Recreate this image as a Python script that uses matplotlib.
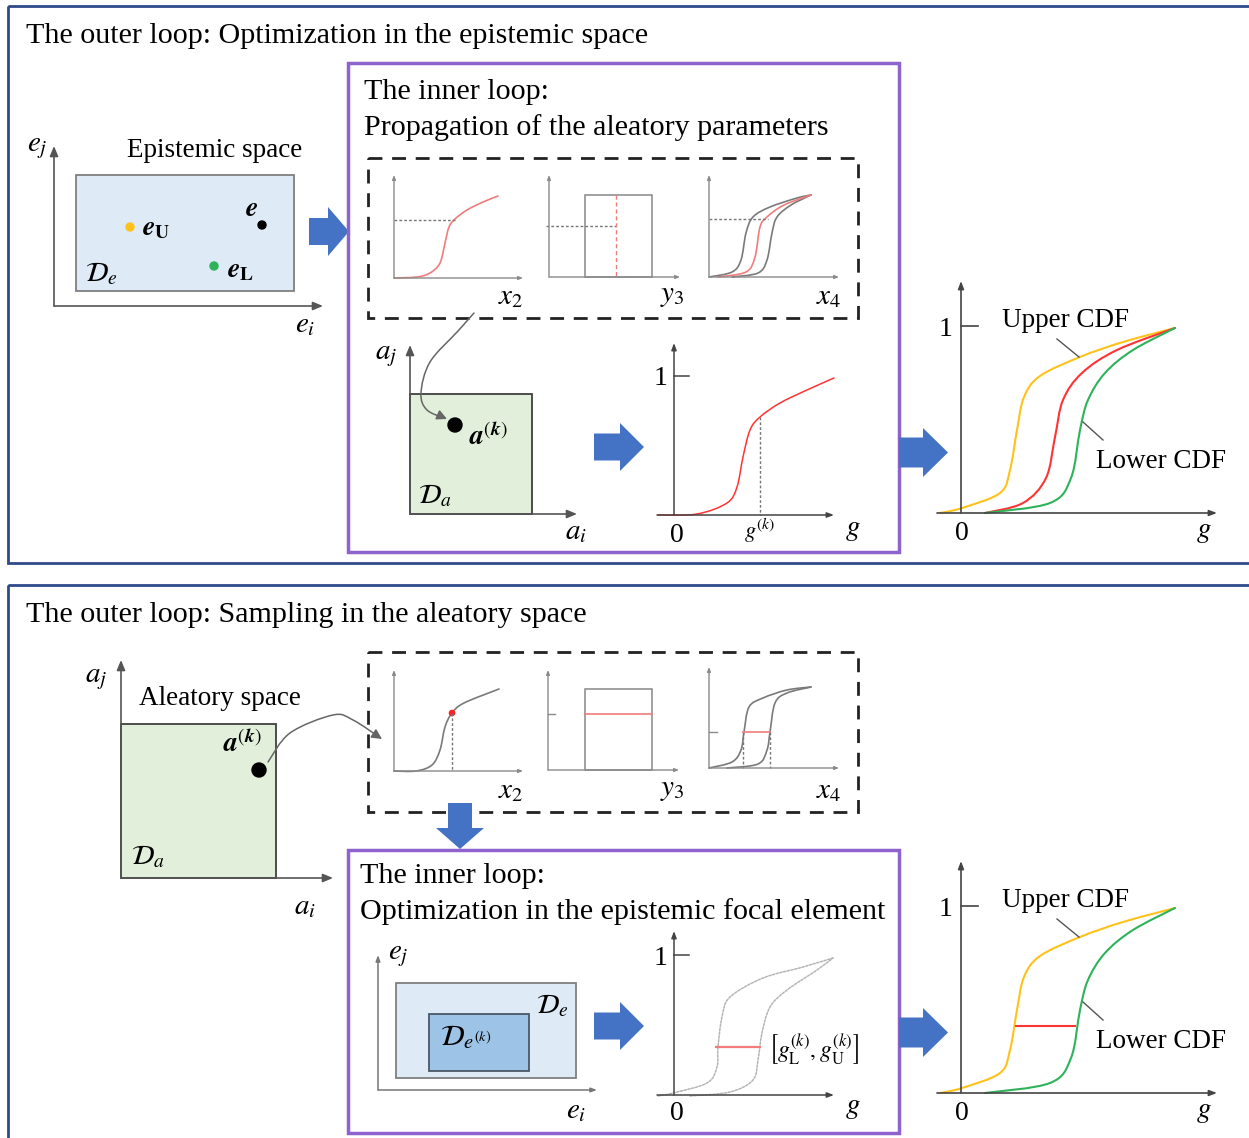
import matplotlib
matplotlib.use("Agg")
import matplotlib.pyplot as plt
from matplotlib.path import Path
from matplotlib.patches import Rectangle, Circle, FancyArrow, FancyArrowPatch, PathPatch
import numpy as np

plt.rcParams["font.family"] = ["Liberation Serif", "DejaVu Serif"]
plt.rcParams["mathtext.fontset"] = "stix"

W, H = 1249, 1138

# ---------------------------------------------------------------------------
# Curve key points (pixel coordinates)
# ---------------------------------------------------------------------------
# small propagation plots, top panel
x2_top = [(394, 278), (417, 277), (430, 273), (440, 263), (445, 243), (449, 227),
          (455, 219), (467, 210), (483, 202), (498, 196)]
x4_top_left = [(709, 277), (732, 272), (741, 260), (746, 233), (753, 217), (770, 207),
               (797, 198), (811, 195)]
x4_top_mid = [(718, 277), (746, 272), (755, 257), (760, 227), (767, 217), (784, 205),
              (811, 195)]
x4_top_right = [(732, 277), (758, 273), (767, 260), (772, 233), (777, 217), (791, 205),
                (811, 195)]

# small propagation plots, bottom panel
x2_bot = [(394, 771), (416, 771), (432, 765), (440, 750), (445, 727), (452, 713),
          (464, 703), (499, 689)]
x4_bot_left = [(709, 768), (732, 762), (741, 750), (744, 732), (749, 707), (763, 698),
               (787, 690), (811, 687)]
x4_bot_right = [(727, 768), (758, 764), (767, 750), (770, 732), (775, 703), (787, 693),
                (811, 687)]

# single CDF of g (top inner loop)
g_cdf = [(658, 515), (697, 514), (727, 503), (737, 487), (743, 457), (750, 430),
         (760, 417), (780, 403), (807, 390), (834, 378)]

# bounds in the focal element (bottom inner loop)
g_upper_k = [(658, 1096), (673, 1093), (707, 1083), (717, 1067), (718, 1047), (722, 1017),
             (730, 997), (763, 978), (803, 967), (833, 958)]
g_lower_k = [(690, 1096), (730, 1092), (753, 1080), (758, 1060), (762, 1033), (770, 1007),
             (787, 990), (817, 970), (833, 958)]

# p-box, top panel (bottom panel is the same shape, shifted down)
upper_cdf = [(940, 513), (962, 508), (1000, 493), (1010, 470), (1017, 430), (1024, 397),
             (1040, 376), (1080, 357), (1123, 342), (1175, 328)]
mid_cdf = [(985, 513), (1023, 503), (1046, 478), (1055, 437), (1063, 400), (1082, 373),
           (1117, 350), (1175, 328)]
lower_cdf = [(985, 513), (1050, 503), (1071, 478), (1080, 430), (1088, 400), (1105, 373),
             (1133, 350), (1175, 328)]
PANEL_SHIFT = 580

arrow_top = [(474, 313), (458, 331), (430, 362), (421, 393), (427, 410), (447, 419)]
arrow_bot = [(268, 762), (290, 733), (333, 715), (353, 720), (382, 739)]

# ---------------------------------------------------------------------------
C_NAVY = "#2F4A8A"
C_PURPLE = "#8E63CE"
C_BLUE = "#4472C4"
C_AX = "#555555"
C_SMALL = "#8a8a8a"
C_PINK = "#F07C7C"
C_RED = "#FF3333"
C_YEL = "#FFC21A"
C_GRN = "#2EB35A"
FS = 21.6
FS_LBL = 19.5


def smooth_path(pts):
    p = np.asarray(pts, dtype=float)
    verts = [p[0]]
    codes = [Path.MOVETO]
    for i in range(len(p) - 1):
        p0 = p[i - 1] if i > 0 else p[i]
        p1, p2 = p[i], p[i + 1]
        p3 = p[i + 2] if i + 2 < len(p) else p[i + 1]
        verts += [p1 + (p2 - p0) / 6, p2 - (p3 - p1) / 6, p2]
        codes += [Path.CURVE4] * 3
    return Path(verts, codes)


def curve(ax, pts, color, lw=1.2, ls="-", dy=0):
    pts = [(x, y + dy) for x, y in pts]
    ax.add_patch(PathPatch(smooth_path(pts), fill=False, edgecolor=color, lw=lw,
                           linestyle=ls, capstyle="round"))


def axis_arrow(ax, x0, y0, x1, y1, color=C_AX, lw=1.2, hl=0.6, hw=0.25):
    ax.annotate("", xy=(x1, y1), xytext=(x0, y0),
                arrowprops=dict(arrowstyle=f"-|>,head_length={hl},head_width={hw}",
                                color=color, lw=lw, shrinkA=0, shrinkB=0))


def small_axes(ax, ox, oy, top, right):
    axis_arrow(ax, ox, oy, ox, top, color=C_SMALL, lw=1.0, hl=0.25, hw=0.1)
    axis_arrow(ax, ox, oy, right, oy, color=C_SMALL, lw=1.0, hl=0.25, hw=0.1)


def fat_arrow(ax, x, y, dx, dy, width, head_width, head_length):
    ax.add_patch(FancyArrow(x, y, dx, dy, width=width, head_width=head_width,
                            head_length=head_length, length_includes_head=True,
                            color=C_BLUE, lw=0))


fig = plt.figure(figsize=(W / 100, H / 100), dpi=100)
ax = fig.add_axes([0, 0, 1, 1])
ax.set_xlim(0, W)
ax.set_ylim(H, 0)
ax.axis("off")

# ---------------------------------------------------------------------------
# Outer panels
# ---------------------------------------------------------------------------
ax.add_patch(Rectangle((8, 6), 1260, 557, fill=False, edgecolor=C_NAVY, lw=2))
ax.add_patch(Rectangle((8, 585), 1260, 580, fill=False, edgecolor=C_NAVY, lw=2))
ax.text(26, 36, "The outer loop: Optimization in the epistemic space", fontsize=FS,
        va="center", ha="left")
ax.text(26, 615, "The outer loop: Sampling in the aleatory space", fontsize=FS,
        va="center", ha="left")

# ---------------------------------------------------------------------------
# Top panel: epistemic space
# ---------------------------------------------------------------------------
ax.add_patch(Rectangle((76, 175), 218, 116, facecolor="#DEEAF6", edgecolor="#7F7F7F", lw=1.3))
axis_arrow(ax, 54, 306, 54, 146)
axis_arrow(ax, 54, 306, 323, 306)
ax.text(37, 148, r"$e_j$", fontsize=21, ha="center", va="center")
ax.text(305, 325, r"$e_i$", fontsize=21, ha="center", va="center")
ax.text(215, 150, "Epistemic space", fontsize=FS_LBL, ha="center", va="center")
ax.add_patch(Circle((130, 227), 4, color=C_YEL))
ax.add_patch(Circle((262, 225), 4, color="black"))
ax.add_patch(Circle((214, 266), 4, color=C_GRN))
ax.text(156, 228, r"$\mathbfit{e}_{\mathbf{U}}$", fontsize=20, ha="center", va="center")
ax.text(252, 209, r"$\mathbfit{e}$", fontsize=20, ha="center", va="center")
ax.text(241, 271, r"$\mathbfit{e}_{\mathbf{L}}$", fontsize=20, ha="center", va="center")
ax.text(101, 274, r"$\mathcal{D}_e$", fontsize=20, ha="center", va="center")
fat_arrow(ax, 309, 231.5, 40, 0, 27, 49, 21)

# inner loop box
ax.add_patch(Rectangle((348, 63), 551, 489, fill=False, edgecolor=C_PURPLE, lw=2.5))
ax.text(364, 92, "The inner loop:", fontsize=FS, va="center", ha="left")
ax.text(364, 128, "Propagation of the aleatory parameters", fontsize=FS, va="center", ha="left")
ax.add_patch(Rectangle((368, 158), 490, 160, fill=False, edgecolor="#222222", lw=2,
                       linestyle=(0, (5, 3.5))))

# small plots
small_axes(ax, 394, 278, 175, 523)
ax.plot([394, 455], [220, 220], color="#777777", lw=1, ls=(0, (2, 1.5)))
curve(ax, x2_top, C_PINK)
small_axes(ax, 549, 277, 175, 680)
ax.add_patch(Rectangle((585, 195), 67, 82, fill=False, edgecolor="#888888", lw=1.1))
ax.plot([546, 616], [226, 226], color="#777777", lw=1, ls=(0, (2, 1.5)))
ax.plot([616, 616], [195, 277], color=C_PINK, lw=1, ls=(0, (3, 2)))
small_axes(ax, 709, 277, 175, 839)
ax.plot([709, 768], [219, 219], color="#777777", lw=1, ls=(0, (2, 1.5)))
curve(ax, x4_top_left, "#7a7a7a")
curve(ax, x4_top_right, "#7a7a7a")
curve(ax, x4_top_mid, C_PINK)
ax.text(511, 297, r"$x_2$", fontsize=21, ha="center", va="center")
ax.text(672, 296, r"$y_3$", fontsize=21, ha="center", va="center")
ax.text(829, 297, r"$x_4$", fontsize=21, ha="center", va="center")

# aleatory sample
ax.add_patch(Rectangle((410, 394), 122, 120, facecolor="#E2EFDA", edgecolor="#404040", lw=1.3))
axis_arrow(ax, 410, 514, 410, 345)
axis_arrow(ax, 410, 514, 577, 514)
ax.text(386, 356, r"$a_j$", fontsize=21, ha="center", va="center")
ax.text(576, 532, r"$a_i$", fontsize=21, ha="center", va="center")
ax.add_patch(Circle((455, 425), 7, color="black"))
ax.text(488, 437, r"$\mathbfit{a}^{(\mathbfit{k})}$", fontsize=20, ha="center", va="center")
ax.text(435, 496, r"$\mathcal{D}_a$", fontsize=20, ha="center", va="center")
ax.add_patch(FancyArrowPatch(path=smooth_path(arrow_top), arrowstyle="-|>,head_length=6,head_width=3",
                             color="#666666", lw=1.1))
fat_arrow(ax, 594, 447, 50, 0, 27, 48, 24)

# CDF of g
axis_arrow(ax, 674, 515, 674, 343, color="#444444", lw=1.1, hl=0.4, hw=0.15)
axis_arrow(ax, 657, 515, 834, 515, color="#444444", lw=1.1, hl=0.4, hw=0.15)
ax.plot([674, 689], [376, 376], color="#444444", lw=1.1)
ax.plot([760, 760], [417, 515], color="#777777", lw=1, ls=(0, (2, 1.5)))
curve(ax, g_cdf, C_RED, lw=1.1)
ax.text(661, 378, "1", fontsize=20, ha="center", va="center")
ax.text(677, 535, "0", fontsize=20, ha="center", va="center")
ax.text(760, 531, r"$g^{(k)}$", fontsize=16, ha="center", va="center")
ax.text(853, 530, r"$g$", fontsize=21, ha="center", va="center")

fat_arrow(ax, 899, 452.5, 49, 0, 30, 49, 25)


def pbox(dy, with_mid, band_y=None):
    axis_arrow(ax, 961, 513 + dy, 961, 281 + dy, color="#444444", lw=1.2, hl=0.45, hw=0.17)
    axis_arrow(ax, 937, 513 + dy, 1217, 513 + dy, color="#444444", lw=1.2, hl=0.45, hw=0.17)
    ax.plot([961, 978], [326 + dy, 326 + dy], color="#444444", lw=1.2)
    curve(ax, upper_cdf, C_YEL, lw=1.5, dy=dy)
    if with_mid:
        curve(ax, mid_cdf, C_RED, lw=1.5, dy=dy)
    curve(ax, lower_cdf, C_GRN, lw=1.5, dy=dy)
    if band_y is not None:
        ax.plot([1016, 1075], [band_y, band_y], color=C_RED, lw=1.5)
    ax.plot([1057, 1079], [339 + dy, 357 + dy], color="#555555", lw=1)
    ax.plot([1083, 1103], [422 + dy, 440 + dy], color="#555555", lw=1)
    ax.text(1066, 320 + dy, "Upper CDF", fontsize=FS_LBL, ha="center", va="center")
    ax.text(1161, 461 + dy, "Lower CDF", fontsize=FS_LBL, ha="center", va="center")
    ax.text(946, 329 + dy, "1", fontsize=20, ha="center", va="center")
    ax.text(962, 533 + dy, "0", fontsize=20, ha="center", va="center")
    ax.text(1204, 532 + dy, r"$g$", fontsize=21, ha="center", va="center")


pbox(0, True)

# ---------------------------------------------------------------------------
# Bottom panel: aleatory space
# ---------------------------------------------------------------------------
ax.add_patch(Rectangle((121, 724), 155, 154, facecolor="#E2EFDA", edgecolor="#404040", lw=1.3))
axis_arrow(ax, 121, 878, 121, 660)
axis_arrow(ax, 121, 878, 333, 878)
ax.text(96, 679, r"$a_j$", fontsize=21, ha="center", va="center")
ax.text(305, 907, r"$a_i$", fontsize=21, ha="center", va="center")
ax.text(220, 698, "Aleatory space", fontsize=FS_LBL, ha="center", va="center")
ax.add_patch(Circle((259, 770), 7, color="black"))
ax.text(242, 744, r"$\mathbfit{a}^{(\mathbfit{k})}$", fontsize=20, ha="center", va="center")
ax.text(148, 857, r"$\mathcal{D}_a$", fontsize=20, ha="center", va="center")
ax.add_patch(FancyArrowPatch(path=smooth_path(arrow_bot), arrowstyle="-|>,head_length=6,head_width=3",
                             color="#666666", lw=1.1))

ax.add_patch(Rectangle((368, 652), 490, 160, fill=False, edgecolor="#222222", lw=2,
                       linestyle=(0, (5, 3.5))))
small_axes(ax, 394, 771, 670, 523)
ax.plot([452, 452], [713, 771], color="#777777", lw=1, ls=(0, (2, 1.5)))
curve(ax, x2_bot, "#7a7a7a")
ax.add_patch(Circle((452, 713), 2.6, color="#FF2020"))
small_axes(ax, 548, 770, 670, 679)
ax.add_patch(Rectangle((585, 689), 67, 81, fill=False, edgecolor="#888888", lw=1.1))
ax.plot([585, 652], [714, 714], color=C_PINK, lw=1.2)
ax.plot([548, 555], [714, 714], color=C_SMALL, lw=1)
small_axes(ax, 709, 768, 667, 839)
ax.plot([709, 717], [732, 732], color=C_SMALL, lw=1)
ax.plot([743, 743], [732, 768], color="#777777", lw=1, ls=(0, (2, 1.5)))
ax.plot([770, 770], [732, 768], color="#777777", lw=1, ls=(0, (2, 1.5)))
curve(ax, x4_bot_left, "#7a7a7a")
curve(ax, x4_bot_right, "#7a7a7a")
ax.plot([743, 770], [732, 732], color=C_PINK, lw=1.2)
ax.text(511, 791, r"$x_2$", fontsize=21, ha="center", va="center")
ax.text(672, 790, r"$y_3$", fontsize=21, ha="center", va="center")
ax.text(829, 791, r"$x_4$", fontsize=21, ha="center", va="center")

fat_arrow(ax, 460, 803, 0, 46, 24, 48, 21)

# inner loop box (bottom)
ax.add_patch(Rectangle((348, 850), 551, 283, fill=False, edgecolor=C_PURPLE, lw=2.5))
ax.text(360, 876, "The inner loop:", fontsize=FS, va="center", ha="left")
ax.text(360, 912, "Optimization in the epistemic focal element", fontsize=FS,
        va="center", ha="left")

ax.add_patch(Rectangle((396, 983), 180, 95, facecolor="#DEEAF6", edgecolor="#7F7F7F", lw=1.3))
ax.add_patch(Rectangle((429, 1014), 100, 57, facecolor="#9DC3E6", edgecolor="#4A5866", lw=1.3))
axis_arrow(ax, 378, 1090, 378, 955, color="#777777", lw=1.1, hl=0.35, hw=0.13)
axis_arrow(ax, 378, 1090, 597, 1090, color="#777777", lw=1.1, hl=0.35, hw=0.13)
ax.text(398, 956, r"$e_j$", fontsize=21, ha="center", va="center")
ax.text(576, 1111, r"$e_i$", fontsize=21, ha="center", va="center")
ax.text(552, 1006, r"$\mathcal{D}_e$", fontsize=20, ha="center", va="center")
ax.text(466, 1037, r"$\mathcal{D}_{e^{(k)}}$", fontsize=21, ha="center", va="center")
fat_arrow(ax, 594, 1026, 50, 0, 27, 48, 24)

axis_arrow(ax, 674, 1095, 674, 931, color="#444444", lw=1.1, hl=0.4, hw=0.15)
axis_arrow(ax, 657, 1095, 834, 1095, color="#444444", lw=1.1, hl=0.4, hw=0.15)
ax.plot([674, 689], [955, 955], color="#444444", lw=1.1)
curve(ax, g_upper_k, "#b5b5b5", lw=1.1, ls=(0, (1.5, 1)))
curve(ax, g_lower_k, "#b5b5b5", lw=1.1, ls=(0, (1.5, 1)))
ax.plot([716, 760], [1047, 1047], color=C_PINK, lw=1.6)
ax.text(813, 1050, r"$\left[g_{\mathrm{L}}^{(k)}, g_{\mathrm{U}}^{(k)}\right]$", fontsize=17,
        ha="center", va="center")
ax.text(661, 958, "1", fontsize=20, ha="center", va="center")
ax.text(677, 1113, "0", fontsize=20, ha="center", va="center")
ax.text(853, 1108, r"$g$", fontsize=21, ha="center", va="center")

fat_arrow(ax, 899, 1032.5, 49, 0, 30, 49, 25)
pbox(PANEL_SHIFT, False, band_y=1026)

fig.savefig("out.png", dpi=100, facecolor="white")
